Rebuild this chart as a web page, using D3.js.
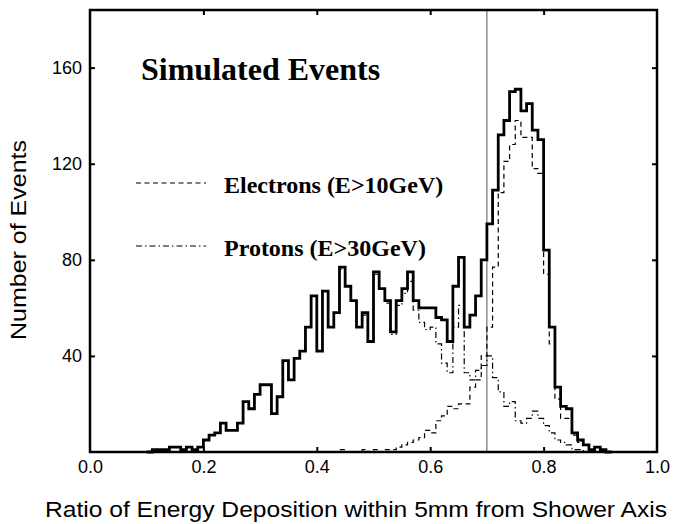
<!DOCTYPE html>
<html lang="en">
<head>
<meta charset="utf-8">
<title>Simulated Events</title>
<style>
  body { margin: 0; background: #fff; }
  svg { display: block; }
  .tick text { font-family: "Liberation Sans", Arial, sans-serif; font-size: 18px; fill: #000; }
  .lab { font-family: "Liberation Sans", Arial, sans-serif; font-size: 22px; fill: #000; }
  .leg { font-family: "Liberation Serif", "Times New Roman", serif; font-weight: bold; fill: #000; }
</style>
</head>
<body>
<div id="chart"></div>
<script src="https://cdn.jsdelivr.net/npm/d3@7"></script>
<script>
// lower edges of the 0.01 wide bins
var binEdges = [0.10,0.11,0.12,0.13,0.14,0.15,0.16,0.17,0.18,0.19,
  0.20,0.21,0.22,0.23,0.24,0.25,0.26,0.27,0.28,0.29,
  0.30,0.31,0.32,0.33,0.34,0.35,0.36,0.37,0.38,0.39,
  0.40,0.41,0.42,0.43,0.44,0.45,0.46,0.47,0.48,0.49,
  0.50,0.51,0.52,0.53,0.54,0.55,0.56,0.57,0.58,0.59,
  0.60,0.61,0.62,0.63,0.64,0.65,0.66,0.67,0.68,0.69,
  0.70,0.71,0.72,0.73,0.74,0.75,0.76,0.77,0.78,0.79,
  0.80,0.81,0.82,0.83,0.84,0.85,0.86,0.87,0.88,0.89,
  0.90,0.91];
var binWidth = 0.01;

var totalCounts = [0,1,1,1,2,2,1,2,1,2,
  5,7,8,12,9,9,12,21,18,24,
  28,28,16,23,38,30,39,42,52,65,
  42,67,52,58,77,69,63,52,58,46,
  75,68,63,50,63,68,75,63,60,60,
  60,56,55,46,69,81,52,57,65,80,
  95,109,132,138,150,151,142,145,134,130,
  84,52,27,19,18,8,5,3,1,2,
  1,0];

var electronCounts = [0,0,0,0,0,0,0,0,0,0,
  0,0,0,0,0,0,0,0,0,0,
  0,0,0,0,0,0,0,0,0,0,
  0,0,0,0,1,0,0,0,1,0,
  1,0,1,1,2,3,4,5,6,9,
  8,13,15,19,18,20,20,27,30,40,
  52,77,108,121,128,138,131,131,118,116,
  74,45,22,14,14,7,4,3,1,2,
  1,0];

var protonCounts = [0,1,1,1,2,2,1,2,1,2,
  5,7,8,12,9,9,12,21,18,24,
  28,28,16,23,38,30,39,42,52,65,
  42,67,52,58,76,69,63,52,57,46,
  74,68,62,49,61,66,71,59,54,51,
  52,45,37,33,52,61,33,30,34,36,
  40,31,25,19,21,13,12,14,17,14,
  11,8,5,4,3,1,1,0,0,0,
  0,0];

var xTicks = [0, 0.2, 0.4, 0.6, 0.8, 1.0];
var yTicks = [40, 80, 120, 160];
var cutValue = 0.7;

var width = 676, height = 524;
var plotL = 90, plotR = 657, plotT = 10, plotB = 452;

var svg = d3.select("#chart").append("svg")
    .attr("width", width)
    .attr("height", height);

var x = d3.scaleLinear().domain([0, 1]).range([plotL, plotR]);
var y = d3.scaleLinear().domain([0, 184]).range([plotB, plotT]);

function steps(counts) {
  var pts = binEdges.map(function(e, i) { return [e, counts[i]]; });
  pts.push([binEdges[binEdges.length - 1] + binWidth, 0]);
  return pts;
}

var line = d3.line()
    .x(function(d) { return x(d[0]); })
    .y(function(d) { return y(d[1]); })
    .curve(d3.curveStepAfter);

// cut line
svg.append("line")
    .attr("x1", x(cutValue)).attr("x2", x(cutValue))
    .attr("y1", y(0)).attr("y2", y(184))
    .attr("stroke", "#555").attr("stroke-width", 1);

svg.append("path")
    .attr("d", line(steps(protonCounts)))
    .attr("fill", "none").attr("stroke", "#000")
    .attr("stroke-width", 1.2)
    .attr("stroke-dasharray", "6,3,1.5,3");

svg.append("path")
    .attr("d", line(steps(electronCounts)))
    .attr("fill", "none").attr("stroke", "#000")
    .attr("stroke-width", 1.2)
    .attr("stroke-dasharray", "5,3.5");

svg.append("path")
    .attr("d", line(steps(totalCounts)))
    .attr("fill", "none").attr("stroke", "#000")
    .attr("stroke-width", 2.8)
    .attr("stroke-linejoin", "miter");

// axes, ticks pointing inward
var gx = svg.append("g")
    .attr("transform", "translate(0," + plotB + ")")
    .call(d3.axisBottom(x).tickValues(xTicks).tickSizeInner(-5).tickSizeOuter(0)
      .tickPadding(8).tickFormat(d3.format(".1f")));
var gxt = svg.append("g")
    .attr("transform", "translate(0," + plotT + ")")
    .call(d3.axisTop(x).tickValues([0.2, 0.4, 0.6, 0.8]).tickSizeInner(-5).tickSizeOuter(0).tickFormat(""));
var gy = svg.append("g")
    .attr("transform", "translate(" + plotL + ",0)")
    .call(d3.axisLeft(y).tickValues(yTicks).tickSizeInner(-5).tickSizeOuter(0).tickPadding(8));
var gyr = svg.append("g")
    .attr("transform", "translate(" + plotR + ",0)")
    .call(d3.axisRight(y).tickValues(yTicks).tickSizeInner(-5).tickSizeOuter(0).tickFormat(""));

[gx, gxt, gy, gyr].forEach(function(g) {
  g.select(".domain").remove();
  g.selectAll(".tick line").attr("stroke", "#000").attr("stroke-width", 2);
});
gx.selectAll(".tick line").filter(function(d) { return d === 0 || d === 1; }).remove();

svg.append("rect")
    .attr("x", plotL).attr("y", plotT)
    .attr("width", plotR - plotL).attr("height", plotB - plotT)
    .attr("fill", "none").attr("stroke", "#000").attr("stroke-width", 2.5);

// titles
svg.append("text").attr("class", "lab")
    .attr("x", 45).attr("y", 517)
    .attr("textLength", 622).attr("lengthAdjust", "spacingAndGlyphs")
    .text("Ratio of Energy Deposition within 5mm from Shower Axis");

svg.append("text").attr("class", "lab")
    .attr("transform", "translate(26,240) rotate(-90)")
    .attr("text-anchor", "middle")
    .attr("textLength", 200).attr("lengthAdjust", "spacingAndGlyphs")
    .text("Number of Events");

// legend
svg.append("text").attr("class", "leg")
    .attr("x", 141).attr("y", 80).style("font-size", "32px")
    .text("Simulated Events");

var legendItems = [
  { name: "Electrons (E>10GeV)", dash: "5,3.5", y: 183 },
  { name: "Protons (E>30GeV)", dash: "6,3,1.5,3", y: 246 }
];
legendItems.forEach(function(d) {
  svg.append("line")
      .attr("x1", 136).attr("x2", 206)
      .attr("y1", d.y).attr("y2", d.y)
      .attr("stroke", "#000").attr("stroke-width", 1.2)
      .attr("stroke-dasharray", d.dash);
  svg.append("text").attr("class", "leg")
      .attr("x", 224).attr("y", d.y + 10).style("font-size", "24px")
      .text(d.name);
});
</script>
</body>
</html>
